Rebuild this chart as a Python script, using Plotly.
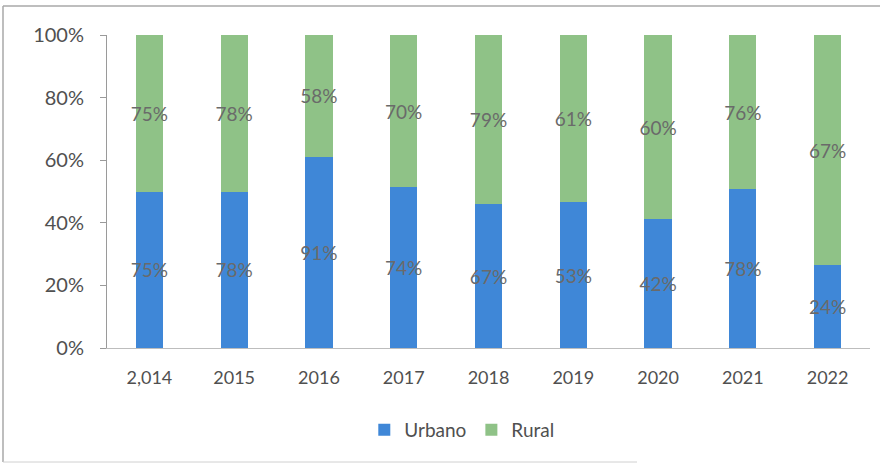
import plotly.graph_objects as go

years = ["2,014", "2015", "2016", "2017", "2018", "2019", "2020", "2021", "2022"]
urbano = [75, 78, 91, 74, 67, 53, 42, 78, 24]
rural = [75, 78, 58, 70, 79, 61, 60, 76, 67]
y_ticks = [0, 20, 40, 60, 80, 100]

fig = go.Figure()

for name, vals, color in [("Urbano", urbano, "#3f87d7"), ("Rural", rural, "#8fc287")]:
    fig.add_trace(go.Bar(
        x=years,
        y=vals,
        name=name,
        marker_color=color,
        marker_line_width=0,
        text=[f"{v}%" for v in vals],
        textposition="inside",
        insidetextanchor="middle",
        textangle=0,
        constraintext="none",
        textfont=dict(family="Lato", size=19, color="#6a6a6a"),
    ))

# chart frame (left, top, partial bottom), in paper units of the 763x313 plot area
pw, ph = 763, 313
frame = dict(type="line", xref="paper", yref="paper", line=dict(color="#a8a8a8", width=1.5))
shapes = [
    dict(frame, x0=-104 / pw, x1=-104 / pw, y0=-114 / ph, y1=1 + 29 / ph),
    dict(frame, x0=-104 / pw, x1=1 + 10 / pw, y0=1 + 29 / ph, y1=1 + 29 / ph),
    dict(frame, x0=-104 / pw, x1=530 / pw, y0=-114 / ph, y1=-114 / ph,
         line=dict(color="#d0d0d0", width=1)),
]

fig.update_layout(
    barmode="stack",
    barnorm="percent",
    bargap=0.68,
    width=883,
    height=464,
    margin=dict(l=107, r=13, t=35, b=116, autoexpand=False),
    plot_bgcolor="white",
    paper_bgcolor="white",
    font=dict(family="Lato", size=18, color="#505050"),
    legend=dict(orientation="h", x=0.465, xanchor="center", y=-0.262, yanchor="middle",
                font=dict(size=19), itemwidth=30, traceorder="normal"),
    xaxis=dict(type="category", showline=True, linecolor="#bdbdbd", linewidth=1,
               ticks="", showgrid=False, tickfont=dict(size=18), ticklabelstandoff=13),
    yaxis=dict(range=[0, 100], tickvals=y_ticks, ticktext=[f"{t}%" for t in y_ticks],
               showline=True, linecolor="#9a9a9a", linewidth=1, ticks="outside",
               ticklen=6, tickcolor="#9a9a9a", showgrid=False, zeroline=False,
               tickfont=dict(size=20), ticklabelstandoff=12),
    shapes=shapes,
)

fig.write_html("out.html", config={"displayModeBar": False},
               post_script="document.body.style.margin='0';")
